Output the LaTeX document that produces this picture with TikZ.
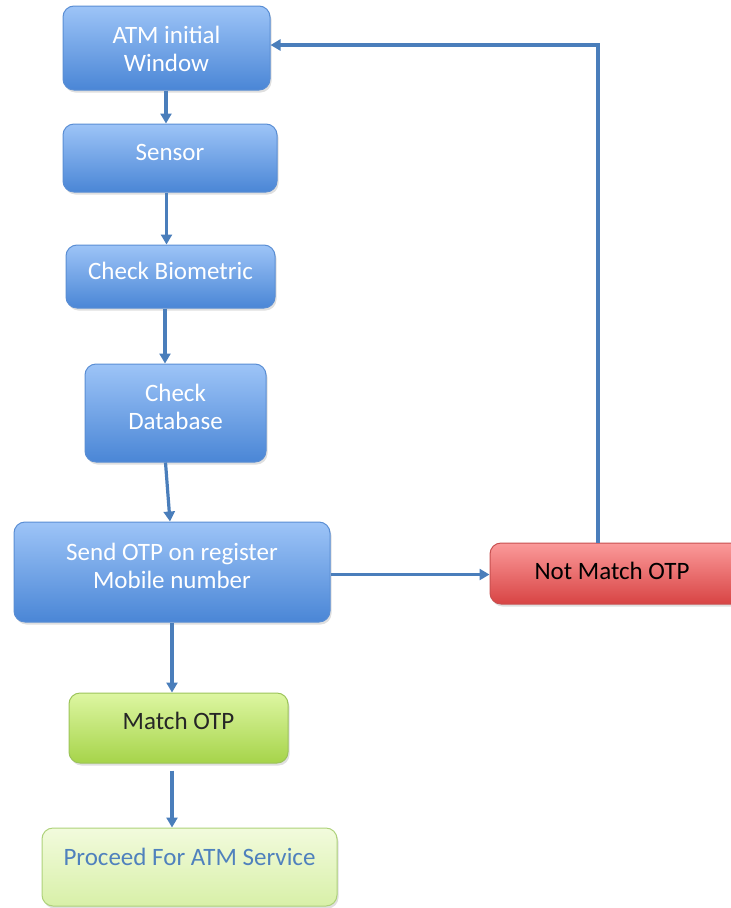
\documentclass[tikz,border=0pt]{standalone}
\usepackage{fontspec}
\setmainfont{Carlito}
\usetikzlibrary{arrows.meta,shadows}
\definecolor{bluetop}{HTML}{9DC4F7}
\definecolor{bluebot}{HTML}{4A86D6}
\definecolor{blueedge}{HTML}{5A8ED4}
\definecolor{redtop}{HTML}{FB9A9A}
\definecolor{redbot}{HTML}{D84444}
\definecolor{rededge}{HTML}{C85050}
\definecolor{greentop}{HTML}{DDF6A2}
\definecolor{greenbot}{HTML}{A6D44A}
\definecolor{greenedge}{HTML}{9CC45A}
\definecolor{lighttop}{HTML}{F2FBDD}
\definecolor{lightbot}{HTML}{D8F0A8}
\definecolor{lightedge}{HTML}{AED27A}
\definecolor{arrowc}{HTML}{4A7EBB}
\definecolor{proctext}{HTML}{4F81BD}
\newcommand{\boxtext}[2][0pt]{\raisebox{#1}[\height][\depth]{\begin{tabular}{@{}c@{}}#2\end{tabular}}}
\tikzset{
  box/.style={rounded corners=11pt, draw, line width=1pt, align=center,
    font=\fontsize{25}{28}\selectfont, inner sep=0pt,
    drop shadow={shadow xshift=1.5pt, shadow yshift=-2.5pt, opacity=0.25}},
  bluebox/.style={box, top color=bluetop, bottom color=bluebot, draw=blueedge, text=white},
  redbox/.style={box, top color=redtop, bottom color=redbot, draw=rededge, text=black},
  greenbox/.style={box, top color=greentop, bottom color=greenbot, draw=greenedge, text=black!85},
  lightbox/.style={box, top color=lighttop, bottom color=lightbot, draw=lightedge, text=proctext},
  conn/.style={draw=arrowc, line width=3.2pt, -{Triangle[length=10pt,width=11pt]}}
}
\begin{document}
\begin{tikzpicture}[x=1pt,y=-1pt]
\useasboundingbox (0,0) rectangle (731,908);
\fill[white] (0,0) rectangle (731,908);
\clip (0,0) rectangle (731,908);
\node[bluebox, minimum width=207pt, minimum height=84pt] (n1) at (166.5,48) {\boxtext[-3.5pt]{ATM initial\\Window}};
\node[bluebox, minimum width=214pt, minimum height=68pt] (n2) at (170,158) {\boxtext[3pt]{Sensor}};
\node[bluebox, minimum width=209pt, minimum height=63pt] (n3) at (170.5,276.5) {\boxtext[3pt]{Check Biometric}};
\node[bluebox, minimum width=181pt, minimum height=98pt] (n4) at (175.5,413) {\boxtext[3pt]{Check\\Database}};
\node[bluebox, minimum width=316pt, minimum height=100pt] (n5) at (172,572) {\boxtext[3pt]{Send OTP on register\\Mobile number}};
\node[redbox, minimum width=260pt, minimum height=61pt] (n6) at (620,573.5) {\boxtext{\hspace*{-16pt}Not Match OTP}};
\node[greenbox, minimum width=219pt, minimum height=70pt] (n7) at (178.5,728) {\boxtext[4pt]{Match OTP}};
\node[lightbox, minimum width=295pt, minimum height=78pt] (n8) at (189.5,867) {\boxtext[7pt]{Proceed For ATM Service}};
\draw[conn] ([xshift=-0.5pt]n1.south) -- ([xshift=-0.5pt]n1.south |- n2.north);
\draw[conn] (n1.south |- n2.south) -- (n1.south |- n3.north);
\draw[conn] ([xshift=-1.5pt]n1.south |- n3.south) -- ([xshift=-1.5pt]n1.south |- n4.north);
\draw[conn] ([xshift=-10pt]n4.south) -- ([xshift=-2pt]n5.north);
\draw[conn] (n5.south) -- (n5.south |- n7.north);
\draw[conn] ([yshift=-7pt]n7.south -| n5.south) -- (n5.south |- n8.north);
\draw[conn] ([yshift=-2.5pt]n5.east) -- ([yshift=-1pt]n6.west);
\draw[conn] ([xshift=-22pt]n6.north) |- ([yshift=3pt]n1.east);
\end{tikzpicture}
\end{document}
